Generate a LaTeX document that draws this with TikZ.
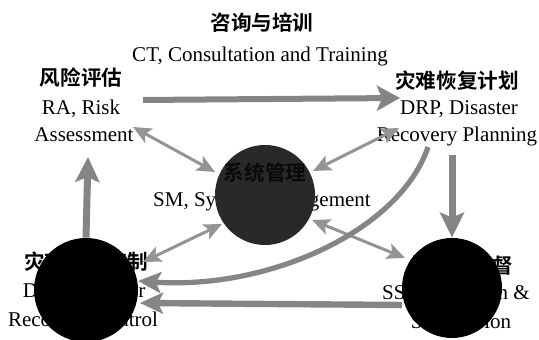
\documentclass[tikz,border=0pt]{standalone}
\usepackage{fontspec}
\setmainfont{Liberation Serif}
\newfontfamily\cjk{Noto Sans CJK SC Bold}
\usetikzlibrary{arrows.meta}
\begin{document}
\begin{tikzpicture}[x=0.5pt,y=-0.5pt,
  en/.style={font=\fontsize{10.5}{12}\selectfont, anchor=base, inner sep=0pt},
  zh/.style={font=\fontsize{10.3}{12}\selectfont\cjk, anchor=base, inner sep=0pt},
  big/.style={draw=black!48, line width=3pt, -{Stealth[length=11.5pt,width=12.5pt,inset=2.5pt,fill=black!48]}},
  vert/.style={draw=black!48, line width=3.5pt, -{Stealth[length=12.5pt,width=12pt,inset=2.5pt,fill=black!48]}},
  back/.style={draw=black!48, line width=3.2pt, -{Stealth[length=11.5pt,width=10.5pt,inset=2.5pt,fill=black!48]}},
  dbl/.style={draw=black!42, line width=1.5pt, {Stealth[length=9pt,width=8pt,inset=2pt,fill=black!42]}-{Stealth[length=9pt,width=8pt,inset=2pt,fill=black!42]}},
  blob/.style={circle, inner sep=0pt, minimum size=#1}
]
\fill[white] (0,0) rectangle (539,340);
\useasboundingbox (0,0) rectangle (539,340);

% texts
\node[zh] (ct1) at (262,31) {咨询与培训};
\node[en] (ct2) at (260,62) {CT, Consultation and Training};
\node[zh] (ra1) at (81,86) {风险评估};
\node[en] (ra2) at (81,115) {RA, Risk};
\node[en] (ra3) at (84,142) {Assessment};
\node[zh] (drp1) at (457,89) {灾难恢复计划};
\node[en] (drp2) at (459,115) {DRP, Disaster};
\node[en] (drp3) at (457,142) {Recovery Planning};
\node[en] (sm2) at (262,207) {SM, System Management};
\node[zh] (drc1) at (86,270) {灾难恢复控制};
\node[en] (drc2) at (84,298) {DRC, Disaster};
\node[en] (drc3) at (83,327) {Recovery Control};
\node[zh] (ss1) at (462,274) {模拟与监督};
\node[en] (ss2) at (456,300) {SS, Simulation \&};
\node[en] (ss3) at (461,329) {Supervision};

% circles
\node[blob=50pt, fill=black!84] (sm) at (265,195) {};
\node[zh, text=black!96] (sm1) at (265,181) {系统管理};
\node[blob=52pt, fill=black] (drc) at (86,290) {};
\node[blob=50pt, fill=black] (ss) at (452,288) {};

% connector end points
\coordinate (ctS) at (143,100); \coordinate (ctE) at (400,98);
\coordinate (raA) at (133,127); \coordinate (smA) at (215,172);
\coordinate (drpA) at (399,128); \coordinate (smB) at (313,171);
\coordinate (drcA) at (143,262); \coordinate (smC) at (222,224);
\coordinate (smD) at (312,220); \coordinate (ssA) at (405,258);
\coordinate (drpB) at (452,155);
\coordinate (raB) at (88,157);
\coordinate (drpC) at (428,147); \coordinate (drcC) at (138,281);
\coordinate (ssC) at (402,305); \coordinate (drcD) at (140,303);

% connectors
\draw[big] (ctS) -- (ctE);
\draw[dbl] (raA) -- (smA);
\draw[dbl] (drpA) -- (smB);
\draw[dbl] (drcA) -- (smC);
\draw[dbl] (smD) -- (ssA);
\draw[vert] (drpB) -- (ss.north);
\draw[vert] (drc.north) -- (raB);
\draw[back, line width=2.6pt] (drpC) .. controls (400,230) and (270,290) .. (drcC);
\draw[back] (ssC) -- (drcD);
\end{tikzpicture}
\end{document}
